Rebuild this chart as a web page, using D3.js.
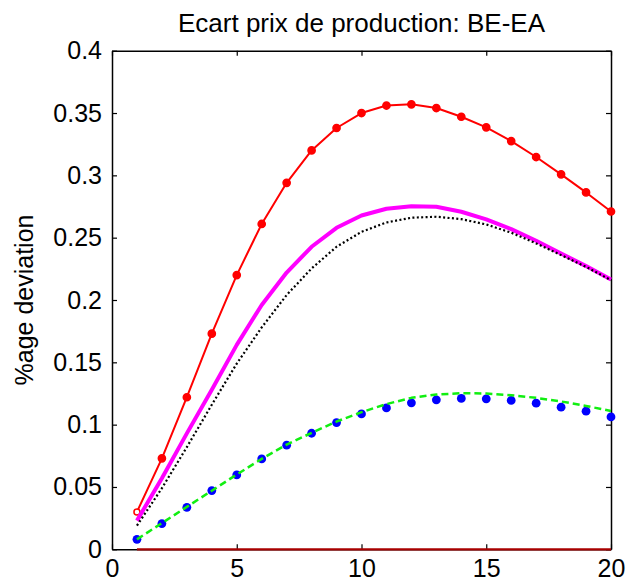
<!DOCTYPE html>
<html>
<head>
<meta charset="utf-8">
<script src="https://cdn.jsdelivr.net/npm/d3@7"></script>
<style>
	body { margin: 0; background: #fff; }
	text { font-family: "Liberation Sans", Arial, sans-serif; fill: #000; }
</style>
</head>
<body>
<svg width="637" height="586"></svg>
<script>
const periods = d3.range(1, 21);
const red_values = [0.030, 0.073, 0.122, 0.173, 0.220, 0.261, 0.294, 0.320, 0.338, 0.350, 0.356, 0.357, 0.354, 0.347, 0.3385, 0.3275, 0.3147, 0.3008, 0.2863, 0.271];
const magenta_values = [0.023, 0.057, 0.093, 0.128, 0.164, 0.196, 0.222, 0.2427, 0.2579, 0.2678, 0.2732, 0.2753, 0.2748, 0.2708, 0.2647, 0.2569, 0.2475, 0.2373, 0.2272, 0.2165];
const black_values = [0.019, 0.049, 0.082, 0.116, 0.149, 0.178, 0.204, 0.2253, 0.2427, 0.2547, 0.2622, 0.266, 0.2668, 0.2649, 0.2606, 0.254, 0.2454, 0.236, 0.2266, 0.2159];
const blue_values = [0.008, 0.0206, 0.0337, 0.0471, 0.0597, 0.0725, 0.0835, 0.0931, 0.1017, 0.1086, 0.1134, 0.1175, 0.1199, 0.121, 0.1207, 0.1194, 0.1172, 0.114, 0.1108, 0.1062];
const green_values = [0.008, 0.021, 0.034, 0.047, 0.060, 0.0725, 0.084, 0.0934, 0.1025, 0.110, 0.1165, 0.1215, 0.1242, 0.1252, 0.125, 0.1236, 0.1215, 0.1186, 0.115, 0.111];
const zero_values = periods.map(() => 0);
const x_ticks = [0, 5, 10, 15, 20];
const y_ticks = [0, 0.05, 0.1, 0.15, 0.2, 0.25, 0.3, 0.35, 0.4];
const title_text = "Ecart prix de production: BE-EA";
const y_label_text = "%age deviation";

const plot_left = 112, plot_right = 611, plot_top = 50.7, plot_bottom = 549.3;
const tick_size = 5;

const svg = d3.select("svg");
const x_scale = d3.scaleLinear().domain([0, 20]).range([plot_left, plot_right]);
const y_scale = d3.scaleLinear().domain([0, 0.4]).range([plot_bottom, plot_top]);

function draw_line(values, color, width, dash) {
	const line = d3.line()
		.x((d, i) => x_scale(periods[i]))
		.y((d) => y_scale(d));
	svg.append("path")
		.datum(values)
		.attr("d", line)
		.attr("fill", "none")
		.attr("stroke", color)
		.attr("stroke-width", width)
		.attr("stroke-dasharray", dash || null)
		.attr("stroke-linejoin", "round");
}

// box with inward ticks on every side
const axis_g = svg.append("g");
axis_g.append("g")
	.attr("transform", "translate(0," + plot_bottom + ")")
	.call(d3.axisBottom(x_scale).tickValues(x_ticks).tickSizeInner(-tick_size).tickSizeOuter(0).tickPadding(10).tickFormat(d3.format("d")));
axis_g.append("g")
	.attr("transform", "translate(0," + plot_top + ")")
	.call(d3.axisTop(x_scale).tickValues(x_ticks).tickSizeInner(-tick_size).tickSizeOuter(0).tickFormat(""));
axis_g.append("g")
	.attr("transform", "translate(" + plot_left + ",0)")
	.call(d3.axisLeft(y_scale).tickValues(y_ticks).tickSizeInner(-tick_size).tickSizeOuter(0).tickPadding(10).tickFormat((d) => String(+d.toFixed(2))));
axis_g.append("g")
	.attr("transform", "translate(" + plot_right + ",0)")
	.call(d3.axisRight(y_scale).tickValues(y_ticks).tickSizeInner(-tick_size).tickSizeOuter(0).tickFormat(""));
axis_g.selectAll(".domain").attr("stroke", "#000").attr("stroke-width", 1.5);
axis_g.selectAll(".tick line").attr("stroke", "#000").attr("stroke-width", 1.2);
axis_g.selectAll(".tick text").style("font-size", "25px").attr("fill", "#000");

draw_line(red_values, "#ff0000", 2);
svg.selectAll(".red_dot")
	.data(red_values)
	.enter()
	.append("circle")
	.attr("cx", (d, i) => x_scale(periods[i]))
	.attr("cy", (d) => y_scale(d))
	.attr("r", (d, i) => i == 0 ? 3 : 3.6)
	.attr("fill", (d, i) => i == 0 ? "#fff" : "#ff0000")
	.attr("stroke", "#ff0000")
	.attr("stroke-width", 1.5);

draw_line(magenta_values, "#ff00ff", 4);
draw_line(black_values, "#000", 2.2, "2,2.4");

svg.selectAll(".blue_dot")
	.data(blue_values)
	.enter()
	.append("circle")
	.attr("cx", (d, i) => x_scale(periods[i]))
	.attr("cy", (d) => y_scale(d))
	.attr("r", 4.4)
	.attr("fill", "#0000ff");

draw_line(green_values, "#11ee11", 2.5, "7,4");
draw_line(zero_values, "#a80000", 2.2);

svg.append("text")
	.attr("x", (plot_left + plot_right) / 2)
	.attr("y", 32)
	.attr("text-anchor", "middle")
	.style("font-size", "26px")
	.text(title_text);

svg.append("text")
	.attr("transform", "translate(33," + (plot_bottom + plot_top) / 2 + ") rotate(-90)")
	.attr("text-anchor", "middle")
	.style("font-size", "25px")
	.text(y_label_text);
</script>
</body>
</html>
